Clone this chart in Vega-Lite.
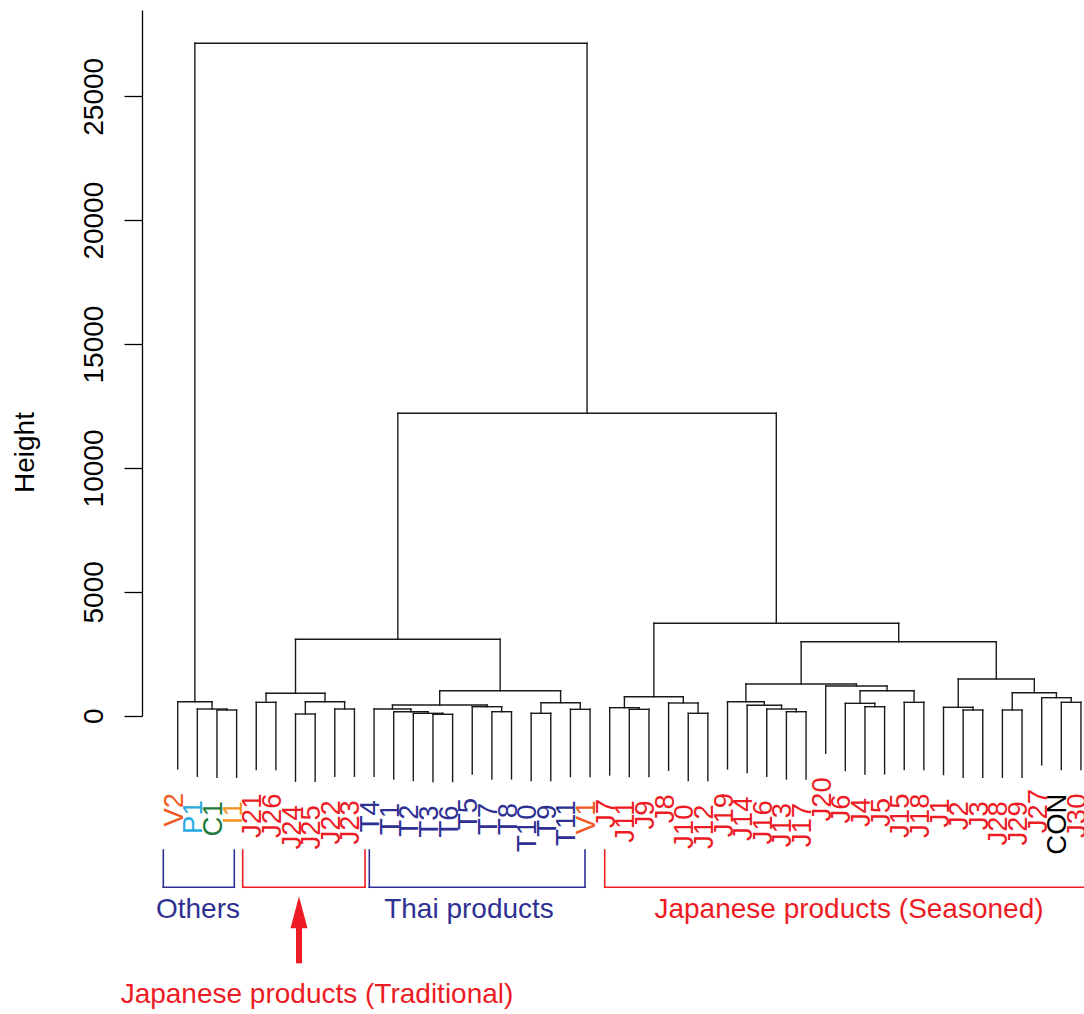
{
  "$schema": "https://vega.github.io/schema/vega-lite/v6.json",
  "width": 942,
  "height": 705.7,
  "autosize": {"type": "none"},
  "padding": {"left": 142, "top": 10, "right": 0, "bottom": 298.3},
  "background": "white",
  "config": {
    "view": {"stroke": null},
    "font": "Liberation Sans",
    "axisY": {
      "format": "d",
      "grid": false,
      "domain": true,
      "domainColor": "#000",
      "domainWidth": 1.3,
      "ticks": true,
      "tickSize": 18,
      "tickWidth": 1.3,
      "tickColor": "#000",
      "labelAngle": 270,
      "labelAlign": "center",
      "labelBaseline": "alphabetic",
      "labelPadding": 22,
      "labelFont": "Liberation Sans",
      "labelFontSize": 28,
      "labelColor": "#000",
      "labelFlush": false,
      "labelOverlap": false,
      "titleFont": "Liberation Sans",
      "titleFontSize": 28,
      "titleFontWeight": "normal",
      "titleColor": "#000",
      "titleAngle": 270,
      "titleAlign": "center",
      "titleBaseline": "alphabetic",
      "titleX": -109,
      "titleY": 442
    }
  },
  "datasets": {
    "merges": [
      {"node": "m01", "lx": 3, "lh": -2484, "rx": 4, "rh": -2484, "h": 230},
      {"node": "m02", "lx": 2, "lh": -2444, "rx": 3.5, "rh": 230, "h": 270},
      {"node": "m03", "lx": 1, "lh": -2149, "rx": 2.75, "rh": 270, "h": 565},
      {"node": "m04", "lx": 5, "lh": -2174, "rx": 6, "rh": -2174, "h": 540},
      {"node": "m05", "lx": 7, "lh": -2645, "rx": 8, "rh": -2645, "h": 69},
      {"node": "m06", "lx": 9, "lh": -2444, "rx": 10, "rh": -2444, "h": 270},
      {"node": "m07", "lx": 7.5, "lh": 69, "rx": 9.5, "rh": 270, "h": 565},
      {"node": "m08", "lx": 5.5, "lh": 540, "rx": 8.5, "rh": 565, "h": 904},
      {"node": "m09", "lx": 14, "lh": -2657, "rx": 15, "rh": -2657, "h": 57},
      {"node": "m10", "lx": 13, "lh": -2617, "rx": 14.5, "rh": 57, "h": 97},
      {"node": "m11", "lx": 12, "lh": -2553, "rx": 13.75, "rh": 97, "h": 161},
      {"node": "m12", "lx": 11, "lh": -2444, "rx": 12.875, "rh": 161, "h": 270},
      {"node": "m13", "lx": 17, "lh": -2553, "rx": 18, "rh": -2553, "h": 161},
      {"node": "m14", "lx": 16, "lh": -2351, "rx": 17.5, "rh": 161, "h": 363},
      {"node": "m15", "lx": 11.9375, "lh": 270, "rx": 16.75, "rh": 363, "h": 432},
      {"node": "m16", "lx": 19, "lh": -2617, "rx": 20, "rh": -2617, "h": 97},
      {"node": "m17", "lx": 21, "lh": -2456, "rx": 22, "rh": -2456, "h": 258},
      {"node": "m18", "lx": 19.5, "lh": 97, "rx": 21.5, "rh": 258, "h": 525},
      {"node": "m19", "lx": 14.34375, "lh": 432, "rx": 20.5, "rh": 525, "h": 1009},
      {"node": "m20", "lx": 7, "lh": 904, "rx": 17.421875, "rh": 1009, "h": 3084},
      {"node": "m21", "lx": 24, "lh": -2456, "rx": 25, "rh": -2456, "h": 258},
      {"node": "m22", "lx": 23, "lh": -2391, "rx": 24.5, "rh": 258, "h": 323},
      {"node": "m23", "lx": 27, "lh": -2617, "rx": 28, "rh": -2617, "h": 97},
      {"node": "m24", "lx": 26, "lh": -2201, "rx": 27.5, "rh": 97, "h": 513},
      {"node": "m25", "lx": 23.75, "lh": 323, "rx": 26.75, "rh": 513, "h": 767},
      {"node": "m26", "lx": 32, "lh": -2553, "rx": 33, "rh": -2553, "h": 161},
      {"node": "m27", "lx": 31, "lh": -2444, "rx": 32.5, "rh": 161, "h": 270},
      {"node": "m28", "lx": 30, "lh": -2294, "rx": 31.75, "rh": 270, "h": 420},
      {"node": "m29", "lx": 29, "lh": -2149, "rx": 30.875, "rh": 420, "h": 565},
      {"node": "m30", "lx": 36, "lh": -2351, "rx": 37, "rh": -2351, "h": 363},
      {"node": "m31", "lx": 35, "lh": -2214, "rx": 36.5, "rh": 363, "h": 500},
      {"node": "m32", "lx": 38, "lh": -2174, "rx": 39, "rh": -2174, "h": 540},
      {"node": "m33", "lx": 35.75, "lh": 500, "rx": 38.5, "rh": 540, "h": 1009},
      {"node": "m34", "lx": 34, "lh": -1515, "rx": 37.125, "rh": 1009, "h": 1199},
      {"node": "m35", "lx": 29.9375, "lh": 565, "rx": 35.5625, "rh": 1199, "h": 1280},
      {"node": "m36", "lx": 41, "lh": -2484, "rx": 42, "rh": -2484, "h": 230},
      {"node": "m37", "lx": 40, "lh": -2375, "rx": 41.5, "rh": 230, "h": 339},
      {"node": "m38", "lx": 43, "lh": -2484, "rx": 44, "rh": -2484, "h": 230},
      {"node": "m39", "lx": 46, "lh": -2174, "rx": 47, "rh": -2174, "h": 540},
      {"node": "m40", "lx": 45, "lh": -1987, "rx": 46.5, "rh": 540, "h": 727},
      {"node": "m41", "lx": 43.5, "lh": 230, "rx": 45.75, "rh": 727, "h": 928},
      {"node": "m42", "lx": 40.75, "lh": 339, "rx": 44.625, "rh": 928, "h": 1481},
      {"node": "m43", "lx": 32.75, "lh": 1280, "rx": 42.6875, "rh": 1481, "h": 2987},
      {"node": "m44", "lx": 25.25, "lh": 767, "rx": 37.71875, "rh": 2987, "h": 3729},
      {"node": "m45", "lx": 12.2109375, "lh": 3084, "rx": 31.484375, "rh": 3729, "h": 12205},
      {"node": "m46", "lx": 1.875, "lh": 565, "rx": 21.84765625, "rh": 12205, "h": 27139}
    ],
    "leaves": [
      {"label": "V2", "kind": "V", "idx": 1, "end": -2149},
      {"label": "P1", "kind": "P", "idx": 2, "end": -2444},
      {"label": "C1", "kind": "C", "idx": 3, "end": -2484},
      {"label": "I1", "kind": "I", "idx": 4, "end": -2484},
      {"label": "J21", "kind": "J", "idx": 5, "end": -2174},
      {"label": "J26", "kind": "J", "idx": 6, "end": -2174},
      {"label": "J24", "kind": "J", "idx": 7, "end": -2645},
      {"label": "J25", "kind": "J", "idx": 8, "end": -2645},
      {"label": "J22", "kind": "J", "idx": 9, "end": -2444},
      {"label": "J23", "kind": "J", "idx": 10, "end": -2444},
      {"label": "T4", "kind": "T", "idx": 11, "end": -2444},
      {"label": "T1", "kind": "T", "idx": 12, "end": -2553},
      {"label": "T2", "kind": "T", "idx": 13, "end": -2617},
      {"label": "T3", "kind": "T", "idx": 14, "end": -2657},
      {"label": "T6", "kind": "T", "idx": 15, "end": -2657},
      {"label": "T5", "kind": "T", "idx": 16, "end": -2351},
      {"label": "T7", "kind": "T", "idx": 17, "end": -2553},
      {"label": "T8", "kind": "T", "idx": 18, "end": -2553},
      {"label": "T10", "kind": "T", "idx": 19, "end": -2617},
      {"label": "T9", "kind": "T", "idx": 20, "end": -2617},
      {"label": "T11", "kind": "T", "idx": 21, "end": -2456},
      {"label": "V1", "kind": "V", "idx": 22, "end": -2456},
      {"label": "J7", "kind": "J", "idx": 23, "end": -2391},
      {"label": "J11", "kind": "J", "idx": 24, "end": -2456},
      {"label": "J9", "kind": "J", "idx": 25, "end": -2456},
      {"label": "J8", "kind": "J", "idx": 26, "end": -2201},
      {"label": "J10", "kind": "J", "idx": 27, "end": -2617},
      {"label": "J12", "kind": "J", "idx": 28, "end": -2617},
      {"label": "J19", "kind": "J", "idx": 29, "end": -2149},
      {"label": "J14", "kind": "J", "idx": 30, "end": -2294},
      {"label": "J16", "kind": "J", "idx": 31, "end": -2444},
      {"label": "J13", "kind": "J", "idx": 32, "end": -2553},
      {"label": "J17", "kind": "J", "idx": 33, "end": -2553},
      {"label": "J20", "kind": "J", "idx": 34, "end": -1515},
      {"label": "J6", "kind": "J", "idx": 35, "end": -2214},
      {"label": "J4", "kind": "J", "idx": 36, "end": -2351},
      {"label": "J5", "kind": "J", "idx": 37, "end": -2351},
      {"label": "J15", "kind": "J", "idx": 38, "end": -2174},
      {"label": "J18", "kind": "J", "idx": 39, "end": -2174},
      {"label": "J1", "kind": "J", "idx": 40, "end": -2375},
      {"label": "J2", "kind": "J", "idx": 41, "end": -2484},
      {"label": "J3", "kind": "J", "idx": 42, "end": -2484},
      {"label": "J28", "kind": "J", "idx": 43, "end": -2484},
      {"label": "J29", "kind": "J", "idx": 44, "end": -2484},
      {"label": "J27", "kind": "J", "idx": 45, "end": -1987},
      {"label": "CON", "kind": "CON", "idx": 46, "end": -2174},
      {"label": "J30", "kind": "J", "idx": 47, "end": -2174}
    ],
    "brackets": [
      {"series": "Others", "left": 0.267, "right": 3.882, "top": -5421, "bottom": -6926},
      {"series": "Traditional", "left": 4.31, "right": 10.539, "top": -5421, "bottom": -6926},
      {"series": "Thai", "left": 10.758, "right": 21.742, "top": -5421, "bottom": -6926},
      {"series": "Seasoned", "left": 22.746, "right": 48, "top": -5421, "bottom": -6926}
    ],
    "notes": [
      {"series": "Others", "text": "Others", "x": 2.034, "y": -8177},
      {"series": "Thai", "text": "Thai products", "x": 15.835, "y": -8177},
      {"series": "Seasoned", "text": "Japanese products (Seasoned)", "x": 35.187, "y": -8177},
      {"series": "Traditional", "text": "Japanese products (Traditional)", "x": 8.094, "y": -11608}
    ],
    "arrow": [
      {"x": 7.177, "tail": -9994, "neck": -8483, "head": -7936}
    ]
  },
  "resolve": {"scale": {"color": "independent"}},
  "layer": [
    {
      "data": {"name": "merges"},
      "mark": {"type": "rule", "color": "#1a1a1a", "strokeWidth": 1.4, "strokeCap": "square", "clip": false},
      "encoding": {
        "x": {"field": "lx", "type": "quantitative", "scale": {"domain": [-0.818, 47.155], "nice": false, "zero": false}, "axis": null},
        "y": {"field": "lh", "type": "quantitative", "title": "Height", "scale": {"domain": [0, 28483], "nice": false, "zero": false}, "axis": {"values": [0, 5000, 10000, 15000, 20000, 25000]}},
        "y2": {"field": "h"}
      }
    },
    {
      "data": {"name": "merges"},
      "mark": {"type": "rule", "color": "#1a1a1a", "strokeWidth": 1.4, "strokeCap": "square", "clip": false},
      "encoding": {
        "x": {"field": "rx", "type": "quantitative", "scale": {"domain": [-0.818, 47.155], "nice": false, "zero": false}, "axis": null},
        "y": {"field": "rh", "type": "quantitative", "title": "Height", "scale": {"domain": [0, 28483], "nice": false, "zero": false}, "axis": {"values": [0, 5000, 10000, 15000, 20000, 25000]}},
        "y2": {"field": "h"}
      }
    },
    {
      "data": {"name": "merges"},
      "mark": {"type": "rule", "color": "#1a1a1a", "strokeWidth": 1.4, "strokeCap": "square", "clip": false},
      "encoding": {
        "x": {"field": "lx", "type": "quantitative", "scale": {"domain": [-0.818, 47.155], "nice": false, "zero": false}, "axis": null},
        "x2": {"field": "rx"},
        "y": {"field": "h", "type": "quantitative", "title": "Height", "scale": {"domain": [0, 28483], "nice": false, "zero": false}, "axis": {"values": [0, 5000, 10000, 15000, 20000, 25000]}}
      }
    },
    {
      "data": {"name": "leaves"},
      "mark": {"type": "text", "angle": 270, "align": "right", "baseline": "middle", "dx": -24, "dy": -3, "font": "Liberation Sans", "fontSize": 27.5, "clip": false},
      "encoding": {
        "x": {"field": "idx", "type": "quantitative", "scale": {"domain": [-0.818, 47.155], "nice": false, "zero": false}, "axis": null},
        "y": {"field": "end", "type": "quantitative", "title": "Height", "scale": {"domain": [0, 28483], "nice": false, "zero": false}, "axis": {"values": [0, 5000, 10000, 15000, 20000, 25000]}},
        "text": {"field": "label"},
        "color": {
          "field": "kind", "type": "nominal", "legend": null,
          "scale": {"domain": ["V", "P", "C", "I", "J", "T", "CON"], "range": ["#F15A24", "#29ABE2", "#1E7B3A", "#F7941D", "#ED1C24", "#2E3192", "#000000"]}
        }
      }
    },
    {
      "data": {"name": "brackets"},
      "mark": {"type": "rule", "strokeWidth": 1.6, "strokeCap": "square", "clip": false},
      "encoding": {
        "x": {"field": "left", "type": "quantitative", "scale": {"domain": [-0.818, 47.155], "nice": false, "zero": false}, "axis": null},
        "y": {"field": "top", "type": "quantitative", "title": "Height", "scale": {"domain": [0, 28483], "nice": false, "zero": false}, "axis": {"values": [0, 5000, 10000, 15000, 20000, 25000]}},
        "y2": {"field": "bottom"},
        "color": {"field": "series", "type": "nominal", "legend": null, "scale": {"domain": ["Others", "Traditional", "Thai", "Seasoned"], "range": ["#2E3192", "#ED1C24", "#2E3192", "#ED1C24"]}}
      }
    },
    {
      "data": {"name": "brackets"},
      "mark": {"type": "rule", "strokeWidth": 1.6, "strokeCap": "square", "clip": false},
      "encoding": {
        "x": {"field": "right", "type": "quantitative", "scale": {"domain": [-0.818, 47.155], "nice": false, "zero": false}, "axis": null},
        "y": {"field": "top", "type": "quantitative", "title": "Height", "scale": {"domain": [0, 28483], "nice": false, "zero": false}, "axis": {"values": [0, 5000, 10000, 15000, 20000, 25000]}},
        "y2": {"field": "bottom"},
        "color": {"field": "series", "type": "nominal", "legend": null, "scale": {"domain": ["Others", "Traditional", "Thai", "Seasoned"], "range": ["#2E3192", "#ED1C24", "#2E3192", "#ED1C24"]}}
      }
    },
    {
      "data": {"name": "brackets"},
      "mark": {"type": "rule", "strokeWidth": 1.6, "strokeCap": "square", "clip": false},
      "encoding": {
        "x": {"field": "left", "type": "quantitative", "scale": {"domain": [-0.818, 47.155], "nice": false, "zero": false}, "axis": null},
        "x2": {"field": "right"},
        "y": {"field": "bottom", "type": "quantitative", "title": "Height", "scale": {"domain": [0, 28483], "nice": false, "zero": false}, "axis": {"values": [0, 5000, 10000, 15000, 20000, 25000]}},
        "color": {"field": "series", "type": "nominal", "legend": null, "scale": {"domain": ["Others", "Traditional", "Thai", "Seasoned"], "range": ["#2E3192", "#ED1C24", "#2E3192", "#ED1C24"]}}
      }
    },
    {
      "data": {"name": "notes"},
      "mark": {"type": "text", "align": "center", "baseline": "alphabetic", "font": "Liberation Sans", "fontSize": 28, "clip": false},
      "encoding": {
        "x": {"field": "x", "type": "quantitative", "scale": {"domain": [-0.818, 47.155], "nice": false, "zero": false}, "axis": null},
        "y": {"field": "y", "type": "quantitative", "title": "Height", "scale": {"domain": [0, 28483], "nice": false, "zero": false}, "axis": {"values": [0, 5000, 10000, 15000, 20000, 25000]}},
        "text": {"field": "text"},
        "color": {"field": "series", "type": "nominal", "legend": null, "scale": {"domain": ["Others", "Traditional", "Thai", "Seasoned"], "range": ["#2E3192", "#ED1C24", "#2E3192", "#ED1C24"]}}
      }
    },
    {
      "data": {"name": "arrow"},
      "mark": {"type": "rule", "color": "#ED1C24", "strokeWidth": 6, "clip": false},
      "encoding": {
        "x": {"field": "x", "type": "quantitative", "scale": {"domain": [-0.818, 47.155], "nice": false, "zero": false}, "axis": null},
        "y": {"field": "tail", "type": "quantitative", "title": "Height", "scale": {"domain": [0, 28483], "nice": false, "zero": false}, "axis": {"values": [0, 5000, 10000, 15000, 20000, 25000]}},
        "y2": {"field": "neck"}
      }
    },
    {
      "data": {"name": "arrow"},
      "mark": {"type": "point", "shape": "M0,-1L0.53,1L-0.53,1Z", "size": 1024, "filled": true, "color": "#ED1C24", "opacity": 1, "strokeWidth": 0, "clip": false},
      "encoding": {
        "x": {"field": "x", "type": "quantitative", "scale": {"domain": [-0.818, 47.155], "nice": false, "zero": false}, "axis": null},
        "y": {"field": "head", "type": "quantitative", "title": "Height", "scale": {"domain": [0, 28483], "nice": false, "zero": false}, "axis": {"values": [0, 5000, 10000, 15000, 20000, 25000]}}
      }
    }
  ]
}
